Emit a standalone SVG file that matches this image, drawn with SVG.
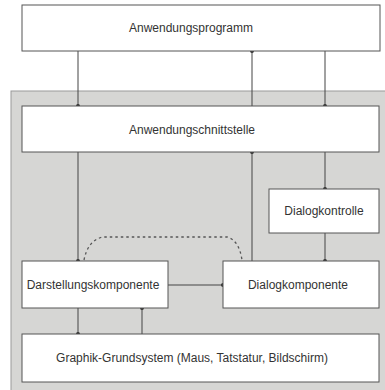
<svg xmlns="http://www.w3.org/2000/svg" width="385" height="390" viewBox="0 0 385 390">
<style>
.box{fill:#fff;stroke:#555;stroke-width:1}
.t{font-family:"Liberation Sans",Arial,sans-serif;font-size:12px;fill:#333;text-anchor:middle}
.c{fill:none;stroke:#444;stroke-width:1}
.d{fill:none;stroke:#555;stroke-width:1.3;stroke-dasharray:2.5 3}
</style>
<defs>
<marker id="dot" viewBox="0 0 6 6" refX="3" refY="3" markerWidth="6" markerHeight="6" markerUnits="userSpaceOnUse">
<circle cx="3" cy="3" r="2" fill="#333"/>
</marker>
</defs>
<rect width="385" height="390" fill="#fff"/>
<rect x="11" y="91" width="380" height="305" fill="#d6d6d4" stroke="#999" stroke-width="1"/>
<g id="connectors">
<line class="c" x1="78" y1="51" x2="78" y2="106" marker-end="url(#dot)"/>
<line class="c" x1="252" y1="106" x2="252" y2="51" marker-end="url(#dot)"/>
<line class="c" x1="325" y1="51" x2="325" y2="106" marker-end="url(#dot)"/>
<line class="c" x1="78" y1="152" x2="78" y2="261" marker-end="url(#dot)"/>
<line class="c" x1="252" y1="261" x2="252" y2="152" marker-end="url(#dot)"/>
<line class="c" x1="325" y1="152" x2="325" y2="189" marker-end="url(#dot)"/>
<line class="c" x1="325" y1="233" x2="325" y2="261" marker-end="url(#dot)"/>
<line class="c" x1="168" y1="285" x2="223" y2="285" marker-end="url(#dot)"/>
<line class="c" x1="78" y1="308" x2="78" y2="334" marker-end="url(#dot)"/>
<line class="c" x1="142" y1="334" x2="142" y2="308" marker-end="url(#dot)"/>
<path class="d" d="M84 260 Q88 240 103 237 L227 237 Q239 240 242 260"/>
</g>
<g id="anwendungsprogramm">
<rect class="box" x="22" y="5" width="358" height="46"/>
<text class="t" x="191" y="32">Anwendungsprogramm</text>
</g>
<g id="anwendungsschnittstelle">
<rect class="box" x="22" y="106" width="357" height="46"/>
<text class="t" x="192" y="134">Anwendungschnittstelle</text>
</g>
<g id="dialogkontrolle">
<rect class="box" x="269" y="189" width="110" height="44"/>
<text class="t" x="324" y="215">Dialogkontrolle</text>
</g>
<g id="darstellungskomponente">
<rect class="box" x="22" y="261" width="146" height="47"/>
<text class="t" x="93" y="289">Darstellungskomponente</text>
</g>
<g id="dialogkomponente">
<rect class="box" x="223" y="261" width="156" height="47"/>
<text class="t" x="298" y="289">Dialogkomponente</text>
</g>
<g id="graphik-grundsystem">
<rect class="box" x="22" y="334" width="357" height="48"/>
<text class="t" x="192" y="362">Graphik-Grundsystem (Maus, Tatstatur, Bildschirm)</text>
</g>
</svg>
